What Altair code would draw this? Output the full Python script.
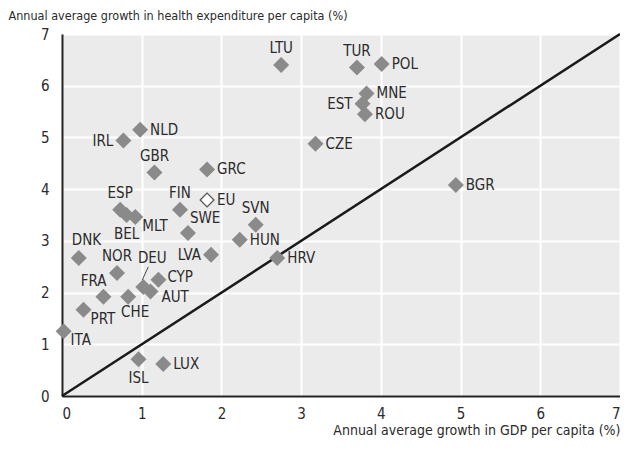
import altair as alt
import pandas as pd

countries = ["LTU", "TUR", "POL", "MNE", "EST", "ROU", "CZE", "BGR", "IRL", "NLD",
             "GBR", "GRC", "ESP", "BEL", "MLT", "FIN", "SWE", "SVN", "HUN", "LVA",
             "HRV", "DNK", "NOR", "DEU", "CYP", "AUT", "FRA", "CHE", "PRT", "ITA",
             "ISL", "LUX", "EU"]
gdp_growth = [2.75, 3.70, 4.01, 3.82, 3.77, 3.80, 3.18, 4.94, 0.77, 0.98,
              1.16, 1.82, 0.73, 0.81, 0.92, 1.48, 1.58, 2.43, 2.23, 1.87,
              2.70, 0.21, 0.69, 1.02, 1.21, 1.11, 0.52, 0.83, 0.27, 0.02,
              0.96, 1.27, 1.82]
health_growth = [6.40, 6.35, 6.42, 5.85, 5.65, 5.45, 4.88, 4.08, 4.94, 5.15,
                 4.32, 4.38, 3.60, 3.50, 3.46, 3.60, 3.15, 3.31, 3.02, 2.73,
                 2.67, 2.67, 2.38, 2.11, 2.25, 2.02, 1.92, 1.92, 1.67, 1.25,
                 0.71, 0.62, 3.79]
# label placement relative to marker
placement = ["t", "t", "r", "r", "l", "r", "r", "r", "l", "r",
             "t", "r", "t", "b", "br", "t", "tr", "t", "r", "l",
             "r", "tr2", "t", "tt", "rt", "rb", "tl", "bc", "br", "br",
             "b", "r", "r"]
group = ["country"] * 32 + ["EU"]

diag_x = [0, 7]
diag_y = [0, 7]

df = pd.DataFrame({"country": countries, "gdp": gdp_growth, "health": health_growth,
                   "pos": placement, "group": group})
diag = pd.DataFrame({"gdp": diag_x, "health": diag_y})

FONT = "DejaVu Sans Condensed, Liberation Sans Narrow, sans-serif"
TXT = "#2b2b2b"
W, H = 558, 362

xscale = alt.Scale(domain=[0, 7], nice=False, zero=False)
yscale = alt.Scale(domain=[0, 7], nice=False, zero=False)

xenc = alt.X("gdp:Q", scale=xscale,
             axis=alt.Axis(title="Annual average growth in GDP per capita (%)",
                           values=[0, 1, 2, 3, 4, 5, 6, 7], ticks=False,
                           labelPadding=10, titleAnchor="end", titleAlign="right",
                           titleX=W, titleY=38, titleBaseline="alphabetic",
                           titleFontSize=14,
                           gridColor="white", gridWidth=2,
                           domainColor="#222", domainWidth=2))
yenc = alt.Y("health:Q", scale=yscale,
             axis=alt.Axis(title="Annual average growth in health expenditure per capita (%)",
                           values=[0, 1, 2, 3, 4, 5, 6, 7], ticks=False,
                           labelPadding=13, titleAngle=0, titleAlign="left",
                           titleX=-54, titleY=-15, titleBaseline="alphabetic",
                           titleFontSize=12.5,
                           gridColor="white", gridWidth=2,
                           domainColor="#222", domainWidth=2))

base = alt.Chart(df)

line = alt.Chart(diag).mark_line(color="#1a1a1a", strokeWidth=2.5).encode(x=xenc, y=yenc)

pts = base.transform_filter(alt.datum.group == "country").mark_point(
    shape="diamond", filled=True, size=256, color="#8a8a8a", opacity=1
).encode(x=xenc, y=yenc)

eu = base.transform_filter(alt.datum.group == "EU").mark_point(
    shape="diamond", filled=True, size=190, fill="white", stroke="#555",
    strokeWidth=1.3, opacity=1
).encode(x=xenc, y=yenc)

leader = base.transform_filter(alt.datum.country == "DEU").mark_rule(
    color="#444", strokeWidth=1, xOffset=-1, yOffset=-7, x2Offset=5, y2Offset=-20
).encode(x=xenc, y=yenc, x2="gdp:Q", y2="health:Q")

offsets = {
    "r": dict(align="left", dx=10, dy=0),
    "rt": dict(align="left", dx=9, dy=-3),
    "rb": dict(align="left", dx=11, dy=5),
    "l": dict(align="right", dx=-10, dy=0),
    "t": dict(align="center", dx=0, dy=-17),
    "tt": dict(align="center", dx=9, dy=-29),
    "b": dict(align="center", dx=0, dy=19),
    "bc": dict(align="center", dx=7, dy=15),
    "tr": dict(align="left", dx=2, dy=-15),
    "tr2": dict(align="left", dx=-7, dy=-18),
    "br": dict(align="left", dx=7, dy=9),
    "tl": dict(align="right", dx=3, dy=-16),
}

texts = []
for code, o in offsets.items():
    texts.append(
        base.transform_filter(alt.datum.pos == code).mark_text(
            font=FONT, fontSize=15, color=TXT, baseline="middle", **o
        ).encode(x=xenc, y=yenc, text="country:N")
    )

chart = alt.layer(line, pts, eu, leader, *texts).properties(
    width=W, height=H,
    autosize=alt.AutoSizeParams(type="none"),
    padding={"left": 54, "top": 26, "right": 0, "bottom": 42},
    background="white",
).configure_view(
    fill="#ebebeb", stroke="#9a9a9a", strokeWidth=1
).configure_axis(
    labelFont=FONT, labelFontSize=15, labelColor=TXT,
    titleFont=FONT, titleColor=TXT, titleFontWeight="normal",
)

chart.save("out.html", embed_options={"renderer": "svg", "actions": False})
